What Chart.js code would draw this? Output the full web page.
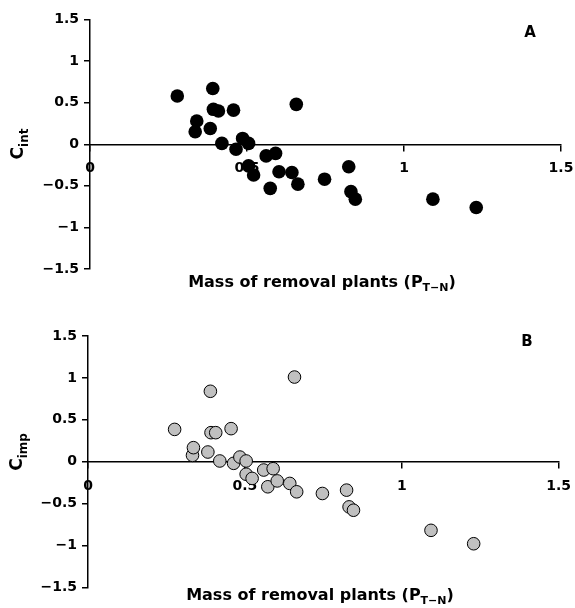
<!DOCTYPE html>
<html>
<head>
<meta charset="utf-8">
<script src="https://cdn.jsdelivr.net/npm/chart.js@4"></script>
<style>
  html, body { margin: 0; padding: 0; background: #fff; }
  #wrap { position: relative; width: 575px; height: 608px; }
  canvas { position: absolute; left: 0; }
</style>
</head>
<body>
<div id="wrap">
  <canvas id="chartA" width="575" height="300" style="top:0px"></canvas>
  <canvas id="chartB" width="575" height="308" style="top:300px"></canvas>
</div>
<script>
// Data
const xRange = [0, 1.5];
const yRange = [-1.5, 1.5];
const tickStep = 0.5;

// Panel A: C_int vs mass of removal plants
const massA = [0.278, 0.335, 0.340, 0.383, 0.391, 0.393, 0.409, 0.420, 0.457, 0.465,
               0.486, 0.505, 0.505, 0.521, 0.561, 0.574, 0.591, 0.602, 0.643, 0.657,
               0.662, 0.747, 0.824, 0.831, 0.845, 1.092, 1.230];
const cInt  = [0.58, 0.15, 0.28, 0.19, 0.67, 0.42, 0.40, 0.01, 0.41, -0.06,
               0.07, 0.01, -0.26, -0.37, -0.14, -0.53, -0.11, -0.33, -0.34, 0.48,
               -0.48, -0.42, -0.27, -0.57, -0.66, -0.66, -0.76];

// Panel B: C_imp vs mass of removal plants
const massB = [0.276, 0.333, 0.336, 0.382, 0.390, 0.392, 0.407, 0.420, 0.456, 0.464,
               0.484, 0.504, 0.504, 0.523, 0.560, 0.573, 0.590, 0.603, 0.643, 0.658,
               0.665, 0.747, 0.824, 0.832, 0.846, 1.093, 1.229];
const cImp  = [0.385, 0.075, 0.167, 0.115, 0.84, 0.346, 0.346, 0.008, 0.394, -0.02,
               0.055, 0.008, -0.15, -0.20, -0.10, -0.30, -0.084, -0.23, -0.26, 1.01,
               -0.36, -0.38, -0.34, -0.54, -0.58, -0.82, -0.98];

const FONT = '"DejaVu Sans", Arial, sans-serif';

function fmt(v) {
  return String(v).replace('-', '\u2212');
}

// draws "main" + subscript "sub" (+ tail), centered on cx
function drawSubTitle(ctx, cx, baseY, main, sub, tail, size, subSize, shift) {
  ctx.font = 'bold ' + size + 'px ' + FONT;
  const w1 = ctx.measureText(main).width;
  const w3 = tail ? ctx.measureText(tail).width : 0;
  ctx.font = 'bold ' + subSize + 'px ' + FONT;
  const w2 = ctx.measureText(sub).width;
  let x = cx - (w1 + w2 + w3) / 2;
  ctx.textAlign = 'left';
  ctx.textBaseline = 'alphabetic';
  ctx.fillStyle = '#000';
  ctx.font = 'bold ' + size + 'px ' + FONT;
  ctx.fillText(main, x, baseY);
  x += w1;
  ctx.font = 'bold ' + subSize + 'px ' + FONT;
  ctx.fillText(sub, x, baseY + shift);
  x += w2;
  if (tail) {
    ctx.font = 'bold ' + size + 'px ' + FONT;
    ctx.fillText(tail, x, baseY);
  }
}

const titlesPlugin = {
  id: 'titles',
  afterDraw(chart, args, opts) {
    const ctx = chart.ctx;
    ctx.save();
    // y title, rotated
    ctx.save();
    ctx.translate(opts.yTitleX, opts.yTitleY);
    ctx.rotate(-Math.PI / 2);
    drawSubTitle(ctx, 0, 0, 'C', opts.ySub, '', 17, 12, 5);
    ctx.restore();
    // x title
    drawSubTitle(ctx, opts.xTitleX, opts.xTitleY, 'Mass of removal plants (P', 'T\u2212N', ')', 16, 11, 4);
    // panel letter
    ctx.font = 'bold 15px ' + FONT;
    ctx.textAlign = 'center';
    ctx.textBaseline = 'alphabetic';
    ctx.fillText(opts.letter, opts.letterX, opts.letterY);
    ctx.restore();
  }
};

function makeChart(id, xs, ys, ds, pad, yWidth, titleOpts) {
  const points = xs.map((x, i) => ({ x: x, y: ys[i] }));
  return new Chart(document.getElementById(id), {
    type: 'scatter',
    data: {
      datasets: [Object.assign({ data: points }, ds)]
    },
    options: {
      responsive: false,
      animation: false,
      layout: { padding: pad },
      plugins: {
        legend: { display: false },
        tooltip: { enabled: false },
        titles: titleOpts
      },
      scales: {
        x: {
          type: 'linear',
          position: { y: 0 },
          min: xRange[0], max: xRange[1],
          afterFit: s => { s.paddingLeft = 0; s.paddingRight = 0; },
          ticks: {
            stepSize: tickStep,
            color: '#000',
            padding: 10,
            font: { family: FONT, size: 14, weight: 'bold' },
            callback: v => fmt(v)
          },
          grid: { drawOnChartArea: false, drawTicks: true, tickLength: 6, color: '#000', lineWidth: 1.5 },
          border: { display: true, color: '#000', width: 1.5 }
        },
        y: {
          type: 'linear',
          min: yRange[0], max: yRange[1],
          afterFit: s => { s.width = yWidth; s.paddingTop = 0; s.paddingBottom = 0; },
          ticks: {
            stepSize: tickStep,
            color: '#000',
            padding: 5,
            font: { family: FONT, size: 14, weight: 'bold' },
            callback: v => fmt(v)
          },
          grid: { drawOnChartArea: false, drawTicks: true, tickLength: 6, color: '#000', lineWidth: 1.5 },
          border: { display: true, color: '#000', width: 1.5 }
        }
      }
    },
    plugins: [titlesPlugin]
  });
}

makeChart('chartA', massA, cInt,
  { backgroundColor: '#000', borderColor: '#000', borderWidth: 0, pointRadius: 6.8 },
  { left: 0, top: 19.5, right: 14, bottom: 31 }, 90,
  { ySub: 'int', yTitleX: 23, yTitleY: 144, xTitleX: 322, xTitleY: 287, letter: 'A', letterX: 530, letterY: 37 });

makeChart('chartB', massB, cImp,
  { backgroundColor: '#c0c0c0', borderColor: '#000', borderWidth: 1, pointRadius: 6.3 },
  { left: 0, top: 36, right: 16.3, bottom: 20.7 }, 88,
  { ySub: 'imp', yTitleX: 22, yTitleY: 152, xTitleX: 320, xTitleY: 300, letter: 'B', letterX: 527, letterY: 46 });
</script>
</body>
</html>
